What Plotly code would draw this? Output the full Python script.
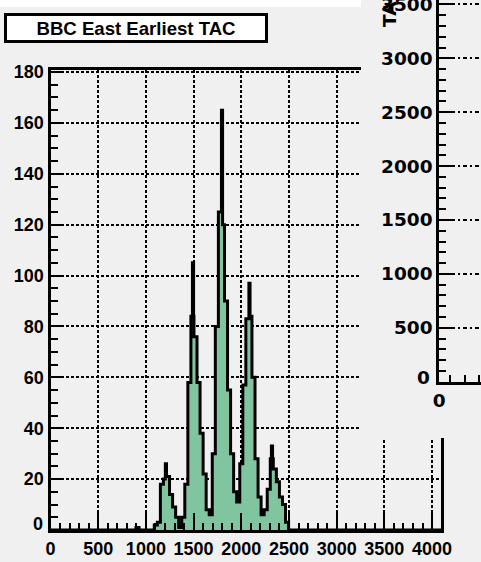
import plotly.graph_objects as go

# ---------------- data ----------------
# BBC East earliest TAC: counts in 32-channel bins, first listed bin = 26
BIN_WIDTH = 32
FIRST_BIN = 26
counts = [
    0, 0, 1, 0, 0, 0, 0, 0, 2, 3,          # bins 26-35
    18, 20, 21, 14, 9, 5, 1,               # 36-42
    5, 18, 58, 84, 76, 58, 38, 22, 8, 6,   # 43-52
    30, 80, 125, 120, 90, 55, 30, 15, 11,  # 53-61
    26, 57, 83, 84, 60, 28, 13, 6, 8,      # 62-70
    16, 28, 24, 19, 13, 10, 3, 0,          # 71-78
]
# single-channel spikes sitting on top of the peaks
spike_channel = [1211, 1494, 1799, 2087, 2322]
spike_counts = [26, 105, 165, 97, 33]

N_CHANNELS = 4096
x_ticks = list(range(0, 4001, 500))
y_ticks = list(range(0, 181, 20))
y_ticklabels = [""] + [str(v) for v in y_ticks[1:]]
side_y_ticks = list(range(0, 3501, 500))
side_y_ticklabels = [""] + [str(v) for v in side_y_ticks[1:]]

# ---------------- styles ----------------
BG = "#f0f0f0"
FILL = "#80c4a0"
FONT = "Liberation Sans"
SIDE_FONT = "DejaVu Sans"
GRID_DASH = "3px,2px"

# step outline on a 4-channel grid: coarse bins plus narrow spikes
STEP = 4
SPIKE_HALF = 6
xs, ys = [], []
for ch in range(0, N_CHANNELS, STEP):
    b = ch // BIN_WIDTH - FIRST_BIN
    v = counts[b] if 0 <= b < len(counts) else 0
    for t, c in zip(spike_channel, spike_counts):
        if abs(ch + STEP / 2 - t) < SPIKE_HALF:
            v = c
    if ys and ys[-1] == v:
        continue
    xs.append(ch)
    ys.append(v)
xs.append(N_CHANNELS)
ys.append(ys[-1])

fig = go.Figure()
fig.add_trace(go.Scatter(
    x=xs, y=ys, mode="lines", line_shape="hv",
    line=dict(color="black", width=3),
    fill="tozeroy", fillcolor=FILL,
    xaxis="x", yaxis="y", hoverinfo="skip",
))
# panel occupying the upper right corner
fig.add_trace(go.Scatter(x=[], y=[], xaxis="x2", yaxis="y2", hoverinfo="skip"))
fig.add_trace(go.Scatter(x=[], y=[], xaxis="x3", yaxis="y3", hoverinfo="skip"))

tickfont = dict(family=FONT, size=18, color="black", weight="bold")
side_font = dict(family=SIDE_FONT, size=18.5, color="black", weight="bold")

fig.update_layout(
    width=481, height=562,
    margin=dict(l=0, r=0, t=0, b=0, autoexpand=False),
    paper_bgcolor=BG, plot_bgcolor=BG,
    showlegend=False,
    xaxis=dict(
        domain=[50.5 / 481, 441.2 / 481], range=[0, N_CHANNELS], anchor="y",
        tickmode="array", tickvals=x_ticks, ticktext=[str(v) for v in x_ticks],
        ticks="inside", ticklen=17, tickwidth=2, tickcolor="black",
        showline=True, linewidth=3, linecolor="black", mirror=True,
        showgrid=True, gridcolor="black", gridwidth=2, griddash=GRID_DASH,
        zeroline=False, tickfont=tickfont, automargin=False,
        minor=dict(dtick=100, tick0=0, ticks="inside", ticklen=7, tickwidth=2,
                   tickcolor="black", showgrid=False),
    ),
    yaxis=dict(
        domain=[(562 - 530) / 562, (562 - 69.5) / 562], range=[0, 181], anchor="x",
        tickmode="array", tickvals=y_ticks, ticktext=y_ticklabels,
        ticks="inside", ticklen=12, tickwidth=2, tickcolor="black",
        showline=True, linewidth=3, linecolor="black", mirror=True,
        showgrid=True, gridcolor="black", gridwidth=2, griddash=GRID_DASH,
        zeroline=False, tickfont=tickfont, automargin=False,
        minor=dict(dtick=5, tick0=0, ticks="inside", ticklen=7, tickwidth=2,
                   tickcolor="black", showgrid=False),
    ),
    xaxis2=dict(domain=[361 / 481, 1], anchor="y2", visible=False, range=[0, 1]),
    yaxis2=dict(domain=[(562 - 438) / 562, 1], anchor="x2", visible=False, range=[0, 1]),
    xaxis3=dict(
        domain=[439.3 / 481, 1], range=[0, 2.876], anchor="y3",
        tickmode="array", tickvals=[0], ticktext=["0"],
        ticks="", showline=True, linewidth=3, linecolor="black",
        showgrid=False, zeroline=False, tickfont=side_font, automargin=False,
        ticklabeloverflow="allow",
        minor=dict(tick0=0.74, dtick=1, ticks="inside", ticklen=7, tickwidth=2,
                   tickcolor="black", showgrid=False),
    ),
    yaxis3=dict(
        domain=[(562 - 381.7) / 562, 1], range=[0, 3541], anchor="x3",
        tickmode="array", tickvals=side_y_ticks, ticktext=side_y_ticklabels,
        ticks="inside", ticklen=13, tickwidth=2, tickcolor="black",
        showline=True, linewidth=3, linecolor="black",
        showgrid=True, gridcolor="black", gridwidth=2, griddash="4px,3px,2px,3px",
        zeroline=False, tickfont=side_font, automargin=False,
        ticklabeloverflow="allow",
        minor=dict(dtick=100, tick0=0, ticks="inside", ticklen=7, tickwidth=2,
                   tickcolor="black", showgrid=False),
    ),
    shapes=[
        dict(type="rect", xref="paper", yref="paper", layer="below",
             x0=0, x1=362 / 481, y0=1 - 7 / 562, y1=1,
             fillcolor="white", line=dict(width=0)),
    ],
    annotations=[
        dict(text="BBC East Earliest TAC", xref="paper", yref="paper",
             x=135.5 / 481, y=1 - 27.7 / 562, xanchor="center", yanchor="middle",
             showarrow=False, width=258, height=24, borderpad=0,
             bgcolor="white", bordercolor="black", borderwidth=3,
             font=dict(family=FONT, size=18.6, color="black", weight="bold")),
        dict(text="0", xref="paper", yref="y", x=45 / 481, y=0,
             xanchor="right", yanchor="middle", yshift=6, showarrow=False,
             font=tickfont),
        dict(text="0", xref="paper", yref="y3", x=432 / 481, y=0,
             xanchor="right", yanchor="middle", yshift=4, showarrow=False,
             font=side_font),
        dict(text="TAC", xref="paper", yref="paper", x=390 / 481, y=1 - 8 / 562,
             xanchor="center", yanchor="middle", textangle=-90, showarrow=False,
             font=side_font),
    ],
)

fig.write_html("out.html")
